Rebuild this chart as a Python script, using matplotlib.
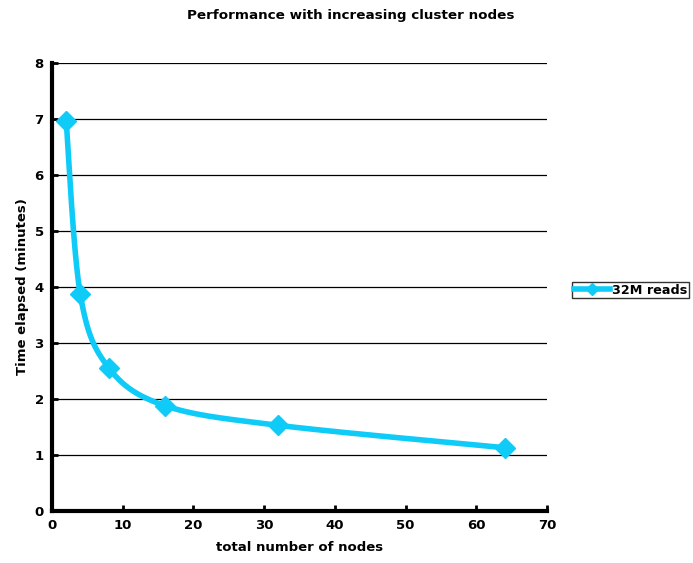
import numpy as np
import matplotlib.pyplot as plt
from matplotlib.lines import Line2D

nodes = [2, 4, 8, 16, 32, 64]
minutes = [6.97, 3.87, 2.56, 1.88, 1.53, 1.13]
series_name = '32M reads'
line_color = '#0FCBF8'


def smooth(xs, ys, steps=40):
    # excel-style smoothed line: bezier through points, control points from neighbours
    pts = np.column_stack([xs, ys]).astype(float)
    pad = np.vstack([pts[0], pts, pts[-1]])
    out = []
    t = np.linspace(0, 1, steps)[:, None]
    for i in range(1, len(pad) - 2):
        p0, p1, p2, p3 = pad[i - 1], pad[i], pad[i + 1], pad[i + 2]
        c1 = p1 + (p2 - p0) / 6
        c2 = p2 - (p3 - p1) / 6
        seg = ((1 - t) ** 3) * p1 + 3 * ((1 - t) ** 2) * t * c1 + 3 * (1 - t) * t ** 2 * c2 + t ** 3 * p2
        out.append(seg)
    out = np.vstack(out)
    return out[:, 0], out[:, 1]


plt.rcParams['font.family'] = ['DejaVu Sans']
plt.rcParams['font.weight'] = 'bold'

fig = plt.figure(figsize=(6.93, 5.63), dpi=100)
ax = fig.add_axes([52 / 693, 52 / 563, 495 / 693, 448 / 563])

sx, sy = smooth(nodes, minutes)
ax.plot(sx, sy, color=line_color, linewidth=4, solid_capstyle='round', zorder=3)
ax.plot(nodes, minutes, linestyle='none', marker='D', markersize=10,
        color=line_color, zorder=4, clip_on=False)

ax.set_xlim(0, 70)
ax.set_ylim(0, 8)
ax.set_xticks(range(0, 71, 10))
ax.set_yticks(range(0, 9))
ax.yaxis.grid(True, color='black', linewidth=0.9)
ax.set_axisbelow(True)

for s in ['top', 'right']:
    ax.spines[s].set_visible(False)
for s in ['left', 'bottom']:
    ax.spines[s].set_linewidth(3)
ax.tick_params(direction='in', length=4, width=2, labelsize=9.5, pad=6)
for lab in ax.get_xticklabels() + ax.get_yticklabels():
    lab.set_fontweight('bold')

ax.set_xlabel('total number of nodes', fontsize=9.5, fontweight='bold', labelpad=6)
ax.set_ylabel('Time elapsed (minutes)', fontsize=9.5, fontweight='bold', labelpad=4)
fig.text(351 / 693, 1 - 16 / 563, 'Performance with increasing cluster nodes',
         ha='center', va='center', fontsize=9.7, fontweight='bold')

handle = Line2D([], [], color=line_color, linewidth=4, marker='D', markersize=6)
leg = fig.legend([handle], [series_name], loc='center left',
                 bbox_to_anchor=(572 / 693, 1 - 290 / 563), borderaxespad=0,
                 frameon=True, fancybox=False, edgecolor='black',
                 handlelength=2.8, borderpad=0.15, handletextpad=0.15,
                 prop={'weight': 'bold', 'size': 9.2})
leg.get_frame().set_linewidth(1)

fig.savefig('out.png', dpi=100)
